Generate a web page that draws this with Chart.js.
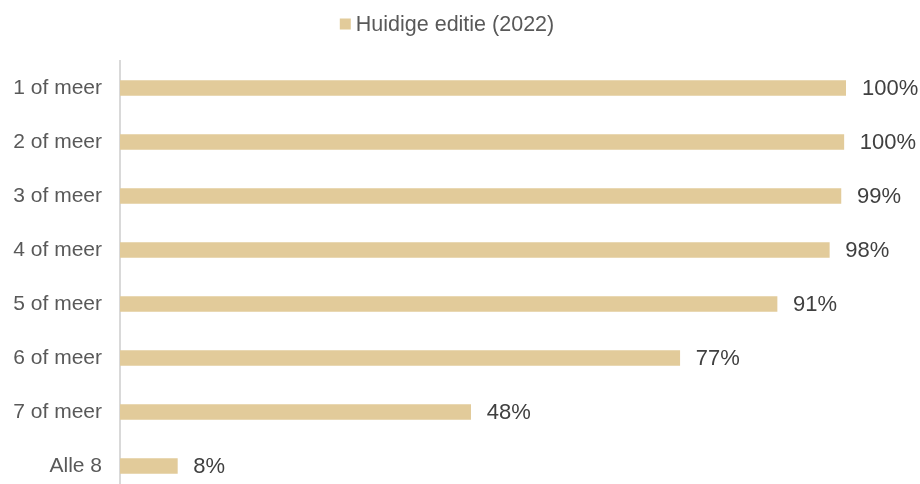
<!DOCTYPE html>
<html>
<head>
<meta charset="utf-8">
<script src="https://cdn.jsdelivr.net/npm/chart.js@4/dist/chart.umd.min.js"></script>
<style>
html,body{margin:0;padding:0;overflow:hidden;background:#fff;}
canvas{display:block;}
</style>
</head>
<body>
<canvas id="c" width="920" height="502" style="width:920px;height:502px;"></canvas>
<script>
const categories = ['1 of meer','2 of meer','3 of meer','4 of meer','5 of meer','6 of meer','7 of meer','Alle 8'];
const values = [100, 99.7, 99.3, 97.7, 90.5, 77.1, 48.3, 7.9];
const valueLabels = ['100%','100%','99%','98%','91%','77%','48%','8%'];
const seriesName = 'Huidige editie (2022)';

const FONT = 'Arial, "Liberation Sans", sans-serif';
const TEXT = '#595959';
const VALUE_TEXT = '#404040';
const BAR = '#E2CB9A';

const valueLabelPlugin = {
  id: 'valueLabels',
  afterDatasetsDraw(chart) {
    const ctx = chart.ctx;
    const meta = chart.getDatasetMeta(0);
    ctx.save();
    ctx.font = '22px ' + FONT;
    ctx.fillStyle = VALUE_TEXT;
    ctx.textAlign = 'left';
    ctx.textBaseline = 'middle';
    meta.data.forEach((bar, i) => {
      ctx.fillText(valueLabels[i], bar.x + 16, bar.y + 1);
    });
    ctx.restore();
  }
};

// simple top legend: square marker + series name, centred
const topLegend = {
  id: 'topLegend',
  afterDraw(chart) {
    const ctx = chart.ctx;
    ctx.save();
    ctx.font = '21.5px ' + FONT;
    const tw = ctx.measureText(seriesName).width;
    const box = 11, gap = 5;
    const total = box + gap + tw;
    const x0 = 447 - total / 2;
    const cy = 24;
    ctx.fillStyle = BAR;
    ctx.fillRect(x0, cy - box / 2, box, box);
    ctx.fillStyle = TEXT;
    ctx.textAlign = 'left';
    ctx.textBaseline = 'middle';
    ctx.fillText(seriesName, x0 + box + gap, cy + 1);
    ctx.restore();
  }
};

new Chart(document.getElementById('c'), {
  type: 'bar',
  data: {
    labels: categories,
    datasets: [{
      label: seriesName,
      data: values,
      backgroundColor: BAR,
      borderWidth: 0,
      barThickness: 15
    }]
  },
  options: {
    indexAxis: 'y',
    responsive: false,
    animation: false,
    layout: { padding: { left: 0, right: 74, top: 61, bottom: 9 } },
    plugins: {
      legend: { display: false },
      tooltip: { enabled: false }
    },
    scales: {
      x: {
        display: false,
        min: 0,
        max: 100
      },
      y: {
        grid: { display: false, drawTicks: false },
        border: { display: true, color: '#d9d9d9', width: 2 },
        afterFit(scale) {
          scale.width = 120;
          scale.paddingTop = 0;
          scale.paddingBottom = 0;
        },
        ticks: {
          font: { size: 21, family: FONT },
          color: TEXT,
          padding: 18
        }
      }
    }
  },
  plugins: [valueLabelPlugin, topLegend]
});
</script>
</body>
</html>
